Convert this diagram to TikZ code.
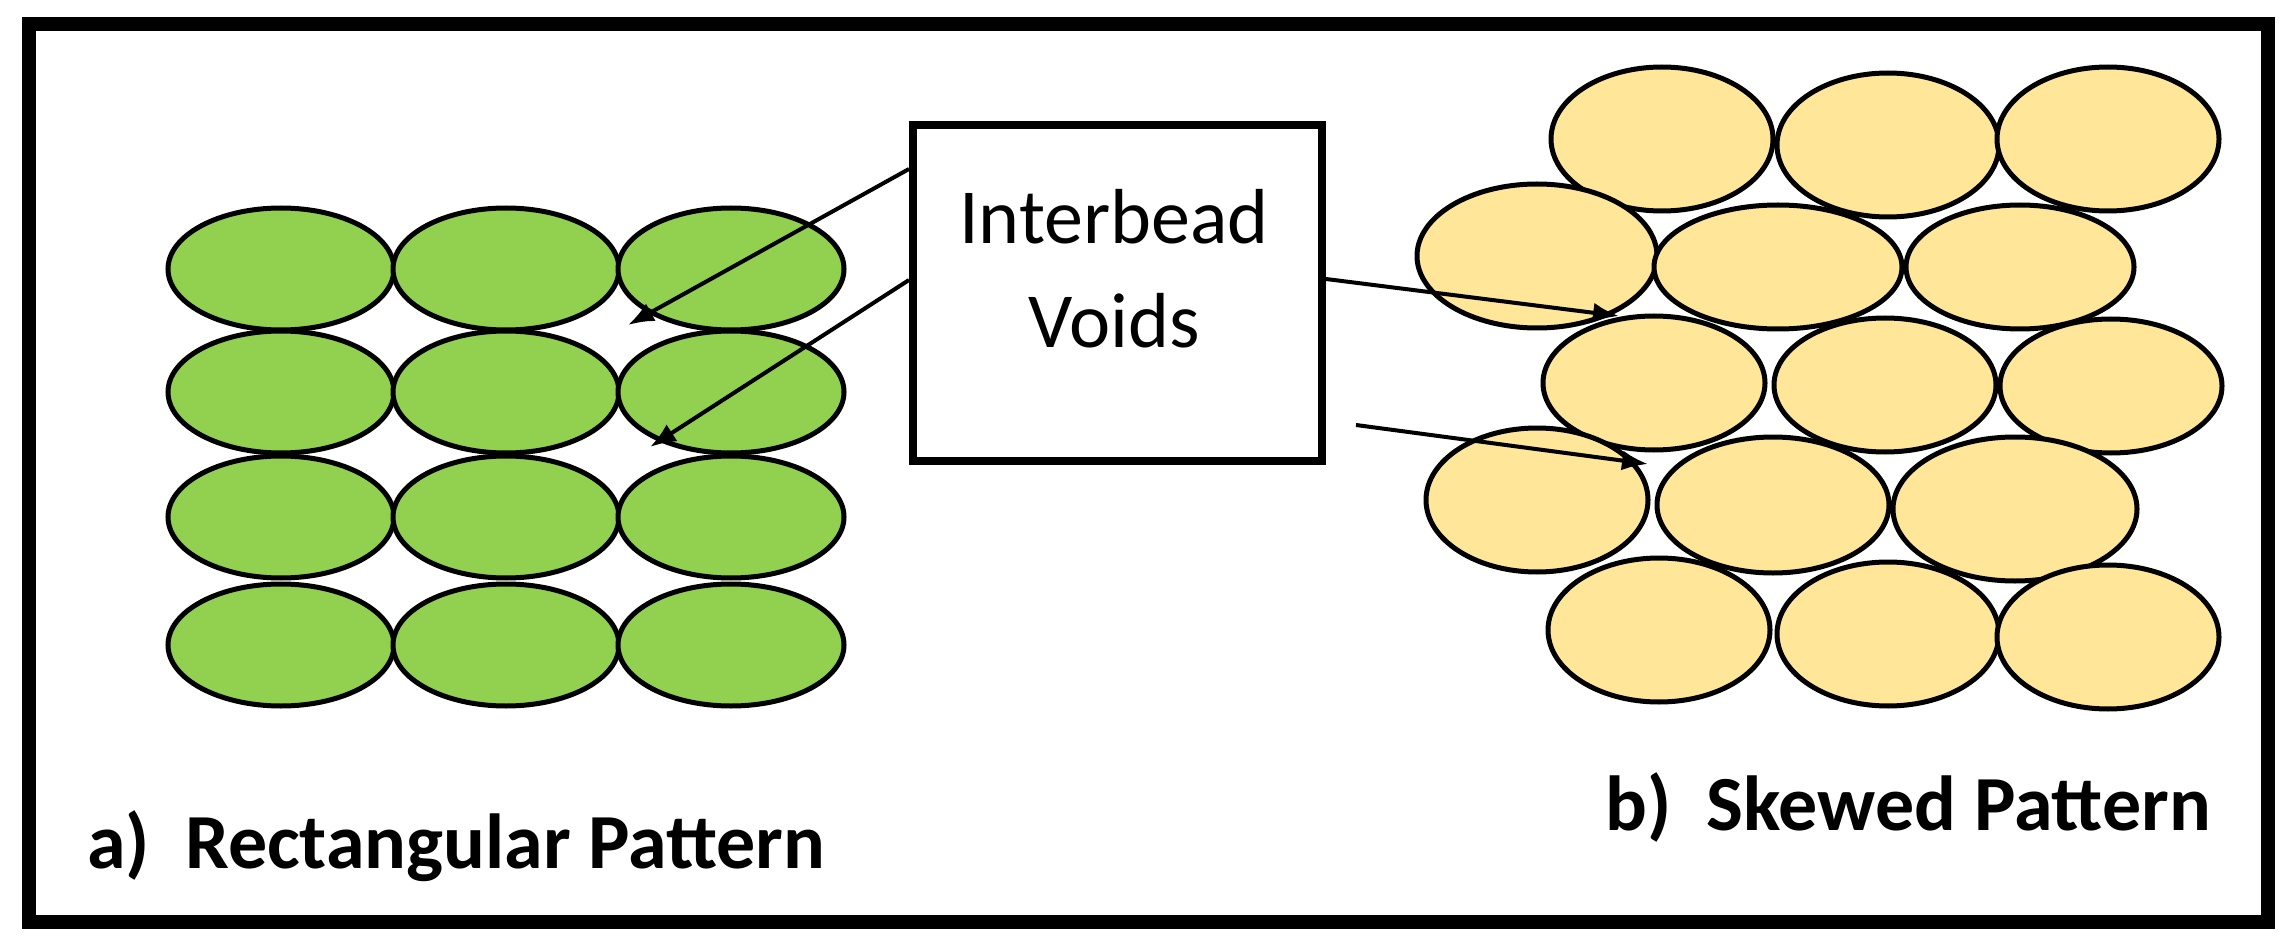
\documentclass[tikz,border=0pt]{standalone}
\usepackage{fontspec}
\setmainfont{Carlito}
\usetikzlibrary{arrows.meta,shapes.geometric}
\definecolor{bgreen}{HTML}{92D050}
\definecolor{byellow}{HTML}{FFE699}
\begin{document}
\begin{tikzpicture}[x=1pt,y=-1pt,
  bead/.style={ellipse,draw=black,line width=5pt,inner sep=0pt,minimum width=2*#1},
  gb/.style={bead=113pt,fill=bgreen,minimum height=122pt},
  yb/.style={bead=111pt,fill=byellow,minimum height=144pt},
  arr/.style={line width=4pt,-{Latex[length=26pt,width=20pt]}},
  lab/.style={font=\fontsize{78}{90}\selectfont\bfseries,anchor=base west,inner sep=0pt}]
\useasboundingbox (0,0) rectangle (2287,941);
\draw[line width=14pt] (29,24) rectangle (2268,922);
% green beads
\foreach \r/\y in {1/269,2/392,3/517,4/645}{
  \foreach \c/\x in {1/281,2/506,3/731}{
    \node[gb] (g\r\c) at (\x,\y) {};
  }
}
% yellow beads
\node[yb] (y11) at (1662,139) {};
\node[yb] (y12) at (1888,145) {};
\node[yb] (y13) at (2108,139) {};
\node[yb,minimum width=240pt] (y21) at (1537,256) {};
\node[yb,minimum width=248pt,minimum height=124pt] (y22) at (1778,267) {};
\node[yb,minimum width=228pt,minimum height=124pt] (y23) at (2020,267) {};
\node[yb,minimum height=134pt] (y31) at (1654,383) {};
\node[yb,minimum height=134pt] (y32) at (1885,385) {};
\node[yb,minimum height=134pt] (y33) at (2111,386) {};
\node[yb] (y41) at (1537,500) {};
\node[yb,minimum width=232pt,minimum height=136pt] (y42) at (1773,505) {};
\node[yb,minimum width=244pt] (y43) at (2015,509) {};
\node[yb] (y51) at (1659,630) {};
\node[yb] (y52) at (1888,634) {};
\node[yb] (y53) at (2108,637) {};
% box
\node[draw,line width=8pt,fill=white,minimum width=409pt,minimum height=336pt,inner sep=0pt] (box) at (1117.5,293) {};
\node[font=\fontsize{78}{90}\selectfont,anchor=base,inner sep=0pt] (t1) at (1114,244) {Interbead};
\node[font=\fontsize{78}{90}\selectfont,anchor=base,inner sep=0pt] (t2) at (1114,348) {Voids};
% arrows
\coordinate (p1) at (628,325);
\coordinate (p2) at (650,447);
\coordinate (p3) at (1619,316);
\coordinate (p4) at (1648,464);
\coordinate (s4) at (1356,425);
\draw[arr] (box.west |- 0,169) -- (p1);
\draw[arr] (box.west |- 0,280) -- (p2);
\draw[arr] (box.east |- 0,279) -- (p3);
\draw[arr] (s4) -- (p4);
% labels
\node[lab] (la) at (87,868) {a)\ \ Rectangular Pattern};
\node[lab] (lb) at (1605,830) {b)\ \ Skewed Pattern};
\end{tikzpicture}
\end{document}
